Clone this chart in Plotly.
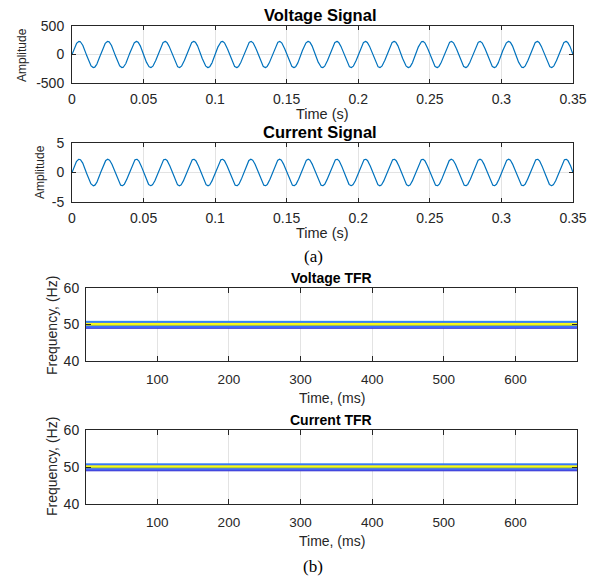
import numpy as np
import plotly.graph_objects as go

# ---- signal parameters ----
f0 = 50.0                # supply frequency, Hz
v_peak = 230.0           # voltage peak, V
i_peak = 2.25            # current peak, A
t_end = 0.35             # record length, s
n_samples = 3501

t = np.linspace(0.0, t_end, n_samples)
voltage = v_peak * np.sin(2 * np.pi * f0 * t)
current = i_peak * np.sin(2 * np.pi * f0 * t)

# ---- time-frequency representation (constant over time) ----
tfr_time_edges = [0.5, 686.0]                              # ms
tfr_freq_edges = [48.85, 49.2, 49.55, 49.85, 50.45, 50.73, 51.0]  # Hz
tfr_mag_v = [0.07, 0.22, 0.72, 1.0, 0.24, 0.30]            # normalised magnitude per band
tfr_mag_i = [0.07, 0.20, 0.70, 1.0, 0.22, 0.28]

parula = [
    [0 / 9, "rgb(62,38,168)"], [1 / 9, "rgb(71,71,235)"], [2 / 9, "rgb(62,111,255)"],
    [3 / 9, "rgb(39,150,235)"], [4 / 9, "rgb(8,181,208)"], [5 / 9, "rgb(49,198,159)"],
    [6 / 9, "rgb(129,204,89)"], [7 / 9, "rgb(220,189,41)"], [8 / 9, "rgb(252,207,48)"],
    [9 / 9, "rgb(249,251,21)"],
]

W, H = 594, 577
FONT = "Liberation Sans, Arial, Helvetica, sans-serif"
INK = "#262626"
GRID = "#e3e3e3"


def dx(a, b):
    return [a / W, b / W]


def dy(top, bottom):
    return [1 - bottom / H, 1 - top / H]


fig = go.Figure()

fig.add_trace(go.Scatter(x=t, y=voltage, mode="lines", line=dict(color="#0072BD", width=1.2),
                         xaxis="x", yaxis="y", showlegend=False))
fig.add_trace(go.Scatter(x=t, y=current, mode="lines", line=dict(color="#0072BD", width=1.2),
                         xaxis="x2", yaxis="y2", showlegend=False))
fig.add_trace(go.Heatmap(x=tfr_time_edges, y=tfr_freq_edges, z=[[m] for m in tfr_mag_v],
                         colorscale=parula, zmin=0, zmax=1, showscale=False,
                         xaxis="x3", yaxis="y3", hoverinfo="skip"))
fig.add_trace(go.Heatmap(x=tfr_time_edges, y=tfr_freq_edges, z=[[m] for m in tfr_mag_i],
                         colorscale=parula, zmin=0, zmax=1, showscale=False,
                         xaxis="x4", yaxis="y4", hoverinfo="skip"))


def axis_style(size):
    return dict(showline=True, linecolor=INK, linewidth=1, mirror="ticks", ticks="inside",
                tickcolor=INK, tickwidth=1, showgrid=True, gridcolor=GRID, gridwidth=1,
                zeroline=False, automargin=False,
                tickfont=dict(family=FONT, size=size, color=INK))


sig_xticks = [0, 0.05, 0.1, 0.15, 0.2, 0.25, 0.3, 0.35]
sig_xtext = ["0", "0.05", "0.1", "0.15", "0.2", "0.25", "0.3", "0.35"]
tfr_xticks = [100, 200, 300, 400, 500, 600]

fig.update_layout(
    width=W, height=H, autosize=False, showlegend=False,
    margin=dict(l=0, r=0, t=0, b=0, pad=0, autoexpand=False),
    paper_bgcolor="white", plot_bgcolor="white",
    xaxis=dict(domain=dx(72, 573), range=[0, t_end], tickvals=sig_xticks, ticktext=sig_xtext,
               ticklen=4, anchor="y", ticklabelstandoff=3, **axis_style(14)),
    yaxis=dict(domain=dy(26, 83), range=[-500, 500], tickvals=[-500, 0, 500],
               ticktext=["-500", "0", "500"], ticklen=4, anchor="x", ticklabelstandoff=4,
               **axis_style(14)),
    xaxis2=dict(domain=dx(72, 573), range=[0, t_end], tickvals=sig_xticks, ticktext=sig_xtext,
                ticklen=4, anchor="y2", ticklabelstandoff=3, **axis_style(14)),
    yaxis2=dict(domain=dy(143, 202), range=[-5, 5], tickvals=[-5, 0, 5],
                ticktext=["-5", "0", "5"], ticklen=4, anchor="x2", ticklabelstandoff=4,
                **axis_style(14)),
    xaxis3=dict(domain=dx(86, 577), range=tfr_time_edges, tickvals=tfr_xticks, ticklen=5,
                anchor="y3", ticklabelstandoff=6, **axis_style(13.5)),
    yaxis3=dict(domain=dy(288, 361), range=[40, 60], tickvals=[40, 50, 60], ticklen=5,
                anchor="x3", ticklabelstandoff=3, **axis_style(14)),
    xaxis4=dict(domain=dx(86, 577), range=tfr_time_edges, tickvals=tfr_xticks, ticklen=5,
                anchor="y4", ticklabelstandoff=6, **axis_style(13.5)),
    yaxis4=dict(domain=dy(430, 504), range=[40, 60], tickvals=[40, 50, 60], ticklen=5,
                anchor="x4", ticklabelstandoff=3, **axis_style(14)),
)


def note(text, x, y, size, bold=False, angle=0, family=FONT, color=INK):
    fig.add_annotation(text=f"<b>{text}</b>" if bold else text, x=x / W, y=1 - y / H,
                       xref="paper", yref="paper", showarrow=False, textangle=angle,
                       xanchor="center", yanchor="middle",
                       font=dict(family=family, size=size, color=color))


# panel titles
note("Voltage Signal", 320, 15, 16.5, bold=True, color="black")
note("Current Signal", 320, 132, 16.5, bold=True, color="black")
note("Voltage TFR", 331, 278, 14, bold=True, color="black")
note("Current TFR", 331, 420, 14, bold=True, color="black")

# axis labels
note("Amplitude", 22, 55, 12, angle=-90)
note("Amplitude", 40, 172, 12, angle=-90)
note("Time (s)", 322, 114, 14.5)
note("Time (s)", 322, 233, 14.5)
note("Frequency, (Hz)", 52, 326, 14, angle=-90)
note("Frequency, (Hz)", 52, 467, 14, angle=-90)
note("Time, (ms)", 332, 398, 14)
note("Time, (ms)", 332, 541, 14)

# sub-figure captions
serif = "Liberation Serif, Times New Roman, serif"
note("(a)", 313, 256, 17, family=serif, color="black")
note("(b)", 313, 566, 17, family=serif, color="black")

fig.write_html("out.html")
